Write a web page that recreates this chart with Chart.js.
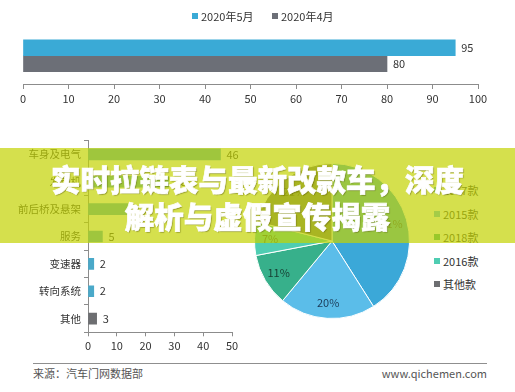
<!DOCTYPE html>
<html>
<head>
<meta charset="utf-8">
<script src="https://cdn.jsdelivr.net/npm/chart.js@4.4.1/dist/chart.umd.min.js"></script>
<style>
  html, body { margin: 0; padding: 0; background: #fff; }
  #page { position: relative; width: 515px; height: 392px; overflow: hidden;
          font-family: 'Noto Sans CJK SC', sans-serif; color: #333; }
  #page canvas { position: absolute; }
  .lg { position: absolute; font-size: 11px; line-height: 14px; white-space: nowrap; }
  .lg i { position: absolute; left: 0; top: 4px; width: 6px; height: 6px; }
  .lg span { position: absolute; left: 9px; top: 0; }
  #banner { position: absolute; left: 0; top: 148px; width: 515px; height: 95px;
            background: rgba(195, 211, 2, 0.7); z-index: 5; text-align: center;
            color: #fff; font-weight: 900; font-size: 29.5px; line-height: 37px;
            padding-top: 12px; box-sizing: border-box;
            -webkit-text-stroke: 0.7px #fff;
            text-shadow: 1px 1px 1px rgba(70, 70, 0, 0.45); }
  #rule { position: absolute; left: 33px; top: 363px; width: 454px; height: 1px; background: #8f8f8f; }
  .foot { position: absolute; top: 366px; font-size: 11px; line-height: 14px; color: #555; }
</style>
</head>
<body>
<div id="page">
  <canvas id="topChart" width="515" height="110" style="left:0;top:0"></canvas>
  <canvas id="partChart" width="250" height="230" style="left:0;top:130px"></canvas>
  <canvas id="modelChart" width="156" height="156" style="left:254px;top:163px"></canvas>
  <div id="topLegend"></div>
  <div id="modelLegend"></div>
  <div id="banner">实时拉链表与最新改款车，深度<br>解析与虚假宣传揭露</div>
  <div id="rule"></div>
  <div class="foot" style="left:33px">来源：汽车门网数据部</div>
  <div class="foot" style="right:28px">www.qichemen.com</div>
</div>
<script>
// top chart: one category, two months
const topCategory = [''];
const monthLabels = ['2020年5月', '2020年4月'];
const mayValues = [95];
const aprValues = [80];
const monthColors = ['#3aaad6', '#6c6f77'];

// bottom-left chart: parts
const partLabels = ['车身及电气', '发动机', '前后桥及悬架', '服务', '变速器', '转向系统', '其他'];
const partValues = [46, 28, 14, 5, 2, 2, 3];
const partColors = ['#4aa9c9', '#4aa9c9', '#4aa9c9', '#4aa9c9', '#4aa9c9', '#4aa9c9', '#6d6e71'];

// pie: model years
const modelLabels = ['2017款', '2015款', '2018款', '2016款', '其他款'];
const modelShares = [41, 20, 11, 7, 21];
const modelColors = ['#3ba8d8', '#5bbde9', '#37b08b', '#4fcdb2', '#6d6e71'];
const modelTextColors = ['#1d4a66', '#1c3c5a', '#173f33', '#27584c', '#2e2e2e'];

Chart.defaults.font.family = "'Noto Sans CJK SC', sans-serif";
Chart.defaults.color = '#333';
Chart.defaults.animation = false;

const axisGray = '#8c8c8c';

// numbers at the end of each bar
const valueLabels = {
  id: 'valueLabels',
  afterDatasetsDraw(chart, args, opts) {
    const ctx = chart.ctx;
    ctx.save();
    ctx.font = "11px 'Noto Sans CJK SC', sans-serif";
    ctx.fillStyle = '#333';
    ctx.textAlign = 'left';
    ctx.textBaseline = 'middle';
    chart.data.datasets.forEach((ds, i) => {
      chart.getDatasetMeta(i).data.forEach((bar, j) => {
        ctx.fillText(ds.data[j], bar.x + opts.gap, bar.y);
      });
    });
    ctx.restore();
  }
};

// percentages inside the slices
const pieLabels = {
  id: 'pieLabels',
  afterDatasetsDraw(chart, args, opts) {
    const ctx = chart.ctx;
    const ds = chart.data.datasets[0];
    ctx.save();
    ctx.font = "11px 'Noto Sans CJK SC', sans-serif";
    ctx.textAlign = 'center';
    ctx.textBaseline = 'middle';
    chart.getDatasetMeta(0).data.forEach((arc, i) => {
      const p = arc.getProps(['x', 'y', 'startAngle', 'endAngle', 'outerRadius'], true);
      const mid = (p.startAngle + p.endAngle) / 2;
      const r = p.outerRadius * opts.radius;
      ctx.fillStyle = opts.colors[i];
      ctx.fillText(ds.data[i] + '%', p.x + Math.cos(mid) * r, p.y + Math.sin(mid) * r);
    });
    ctx.restore();
  }
};

new Chart(document.getElementById('topChart'), {
  type: 'bar',
  data: {
    labels: topCategory,
    datasets: [
      { label: monthLabels[0], data: mayValues, backgroundColor: monthColors[0], barThickness: 16 },
      { label: monthLabels[1], data: aprValues, backgroundColor: monthColors[1], barThickness: 16 }
    ]
  },
  options: {
    indexAxis: 'y',
    responsive: false,
    layout: { padding: { left: 23, right: 37, top: 27.5, bottom: 2 } },
    plugins: { legend: { display: false }, tooltip: { enabled: false }, valueLabels: { gap: 6 } },
    scales: {
      y: { display: false },
      x: {
        min: 0, max: 100,
        afterFit: s => { s.height = 24; },
        ticks: { stepSize: 10, font: { size: 11 }, color: '#333', padding: 3 },
        grid: { drawOnChartArea: false, tickLength: 5, color: axisGray },
        border: { color: axisGray }
      }
    }
  },
  plugins: [valueLabels]
});

new Chart(document.getElementById('partChart'), {
  type: 'bar',
  data: {
    labels: partLabels,
    datasets: [{ data: partValues, backgroundColor: partColors, barThickness: 11 }]
  },
  options: {
    indexAxis: 'y',
    responsive: false,
    layout: { padding: { left: 0, right: 18, top: 10.7, bottom: 3.7 } },
    plugins: { legend: { display: false }, tooltip: { enabled: false }, valueLabels: { gap: 6 } },
    scales: {
      y: {
        afterFit: s => { s.width = 88; },
        ticks: { font: { size: 10.5 }, color: '#333', padding: 3 },
        grid: { offset: true, drawOnChartArea: false, tickLength: 4, color: axisGray },
        border: { color: axisGray }
      },
      x: {
        min: 0, max: 50,
        afterFit: s => { s.height = 24; },
        ticks: { stepSize: 10, font: { size: 11 }, color: '#333', padding: 3 },
        grid: { drawOnChartArea: false, tickLength: 4, color: axisGray },
        border: { color: axisGray }
      }
    }
  },
  plugins: [valueLabels]
});

new Chart(document.getElementById('modelChart'), {
  type: 'pie',
  data: {
    labels: modelLabels,
    datasets: [{ data: modelShares, backgroundColor: modelColors, borderColor: '#ffffff', borderWidth: 1 }]
  },
  options: {
    responsive: false,
    layout: { padding: 0 },
    plugins: {
      legend: { display: false },
      tooltip: { enabled: false },
      pieLabels: { radius: 0.8, colors: modelTextColors }
    }
  },
  plugins: [pieLabels]
});

// html legends built from the same arrays
function buildLegend(host, labels, colors, left, top, dx, dy) {
  labels.forEach((t, i) => {
    const d = document.createElement('div');
    d.className = 'lg';
    d.style.left = (left + dx * i) + 'px';
    d.style.top = (top + dy * i) + 'px';
    d.innerHTML = '<i style="background:' + colors[i] + '"></i><span>' + t + '</span>';
    host.appendChild(d);
  });
}
buildLegend(document.getElementById('topLegend'), monthLabels, monthColors, 192, 9, 80, 0);
buildLegend(document.getElementById('modelLegend'), modelLabels, modelColors, 434, 183, 0, 23.5);
</script>
</body>
</html>
